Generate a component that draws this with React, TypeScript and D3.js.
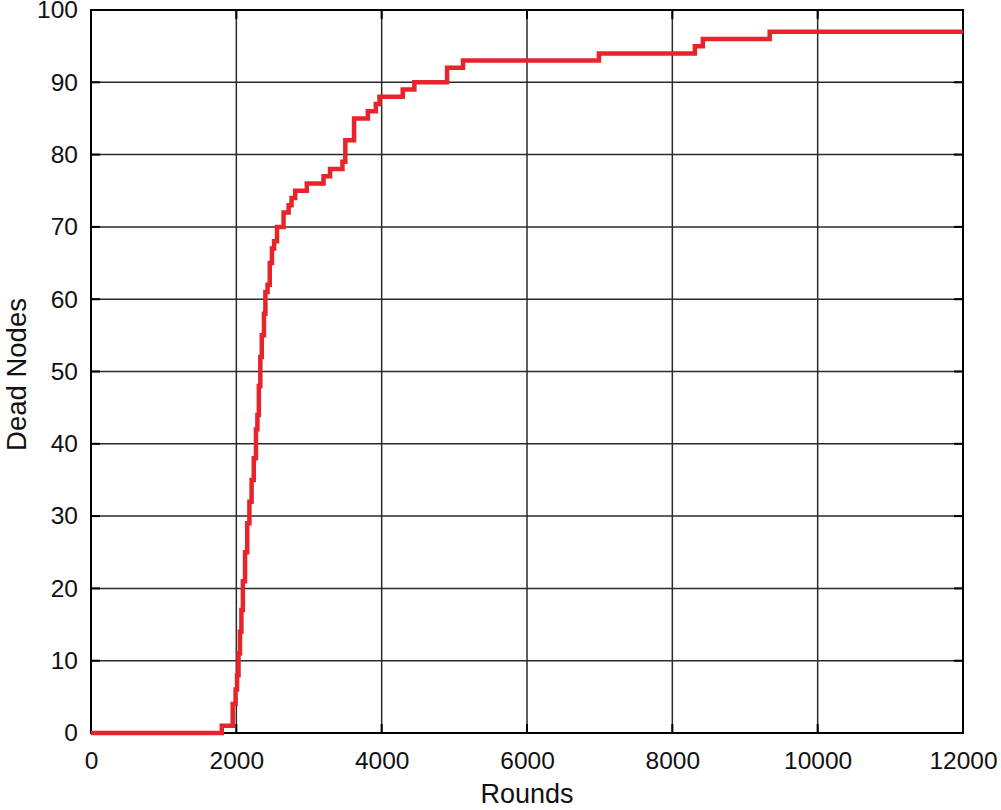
import React, { useRef, useEffect } from "react";
import * as d3 from "d3";

// step data: rounds at which the dead node count changes
const rounds = [
  0, 1800, 1950, 1990, 2010, 2030, 2050, 2070, 2090, 2120, 2150, 2180, 2210, 2240,
  2270, 2290, 2310, 2330, 2350, 2380, 2400, 2430, 2460, 2490, 2520, 2560, 2650,
  2720, 2760, 2810, 2970, 3200, 3290, 3460, 3500, 3620, 3810, 3920, 3970, 4290,
  4450, 4900, 5120, 6990, 8310, 8420, 9340, 12000,
];
const deadNodes = [
  0, 1, 4, 6, 8, 11, 14, 17, 21, 25, 29, 32, 35, 38, 42, 44, 48, 52, 55, 58, 61,
  62, 65, 67, 68, 70, 72, 73, 74, 75, 76, 77, 78, 79, 82, 85, 86, 87, 88, 89, 90,
  92, 93, 94, 95, 96, 97, 97,
];
const xTicks = [0, 2000, 4000, 6000, 8000, 10000, 12000];
const yTicks = [0, 10, 20, 30, 40, 50, 60, 70, 80, 90, 100];

const App = () => {
  const svgRef = useRef<SVGSVGElement>(null);

  useEffect(() => {
    const svg = d3.select(svgRef.current);
    svg.selectAll("*").remove();

    const margin = { top: 10, right: 38, bottom: 77, left: 91 };
    const width = 1001;
    const height = 810;
    const font = "'Liberation Sans', Arial, sans-serif";

    const x = d3.scaleLinear().domain([0, 12000]).range([margin.left, width - margin.right]);
    const y = d3.scaleLinear().domain([0, 100]).range([height - margin.bottom, margin.top]);

    // grid
    const grid = svg.append("g");
    grid.selectAll("line.gx")
      .data(xTicks.slice(1, -1))
      .enter()
      .append("line")
      .attr("x1", (d) => x(d))
      .attr("x2", (d) => x(d))
      .attr("y1", y(0))
      .attr("y2", y(100))
      .attr("stroke", "#2a2a2a")
      .attr("stroke-width", 1.5);
    grid.selectAll("line.gy")
      .data(yTicks.slice(1, -1))
      .enter()
      .append("line")
      .attr("x1", x(0))
      .attr("x2", x(12000))
      .attr("y1", (d) => y(d))
      .attr("y2", (d) => y(d))
      .attr("stroke", "#2a2a2a")
      .attr("stroke-width", 1.5);

    // inner tick marks (left/right, bottom/top)
    const tk = svg.append("g").attr("stroke", "#000").attr("stroke-width", 2);
    yTicks.forEach((d) => {
      tk.append("line").attr("x1", x(0)).attr("x2", x(0) + 9).attr("y1", y(d)).attr("y2", y(d));
      tk.append("line").attr("x1", x(12000)).attr("x2", x(12000) - 9).attr("y1", y(d)).attr("y2", y(d));
    });
    xTicks.forEach((d) => {
      tk.append("line").attr("x1", x(d)).attr("x2", x(d)).attr("y1", y(0)).attr("y2", y(0) - 9);
      tk.append("line").attr("x1", x(d)).attr("x2", x(d)).attr("y1", y(100)).attr("y2", y(100) + 9);
    });

    // frame
    svg.append("rect")
      .attr("x", x(0))
      .attr("y", y(100))
      .attr("width", x(12000) - x(0))
      .attr("height", y(0) - y(100))
      .attr("fill", "none")
      .attr("stroke", "#000")
      .attr("stroke-width", 2);

    // data line
    const pts = rounds.map((r, i) => [r, deadNodes[i]] as [number, number]);
    const line = d3
      .line<[number, number]>()
      .x((d) => x(d[0]))
      .y((d) => y(d[1]))
      .curve(d3.curveStepAfter);
    svg.append("path")
      .datum(pts)
      .attr("d", line)
      .attr("fill", "none")
      .attr("stroke", "#e8232a")
      .attr("stroke-width", 4.5)
      .attr("stroke-linejoin", "miter");

    // axes
    const xAxis = svg.append("g")
      .attr("transform", `translate(0,${y(0)})`)
      .call(d3.axisBottom(x).tickValues(xTicks).tickFormat(d3.format("d")).tickSize(0).tickPadding(19));
    const yAxis = svg.append("g")
      .attr("transform", `translate(${x(0)},0)`)
      .call(d3.axisLeft(y).tickValues(yTicks).tickSize(0).tickPadding(13));
    [xAxis, yAxis].forEach((g) => {
      g.select(".domain").remove();
      g.selectAll("text")
        .attr("font-family", font)
        .attr("font-size", 24.5)
        .attr("fill", "#111");
    });

    svg.append("text")
      .attr("x", (x(0) + x(12000)) / 2)
      .attr("y", 803)
      .attr("text-anchor", "middle")
      .attr("font-family", font)
      .attr("font-size", 27)
      .attr("fill", "#111")
      .text("Rounds");

    svg.append("text")
      .attr("transform", `translate(26,${(y(0) + y(100)) / 2 + 3}) rotate(-90)`)
      .attr("text-anchor", "middle")
      .attr("font-family", font)
      .attr("font-size", 27.5)
      .attr("fill", "#111")
      .text("Dead Nodes");
  }, []);

  return (
    <div style={{ position: "absolute", left: 0, top: 0 }}>
      <svg ref={svgRef} width={1001} height={810} style={{ display: "block", background: "#fff" }}></svg>
    </div>
  );
};

export default App;
